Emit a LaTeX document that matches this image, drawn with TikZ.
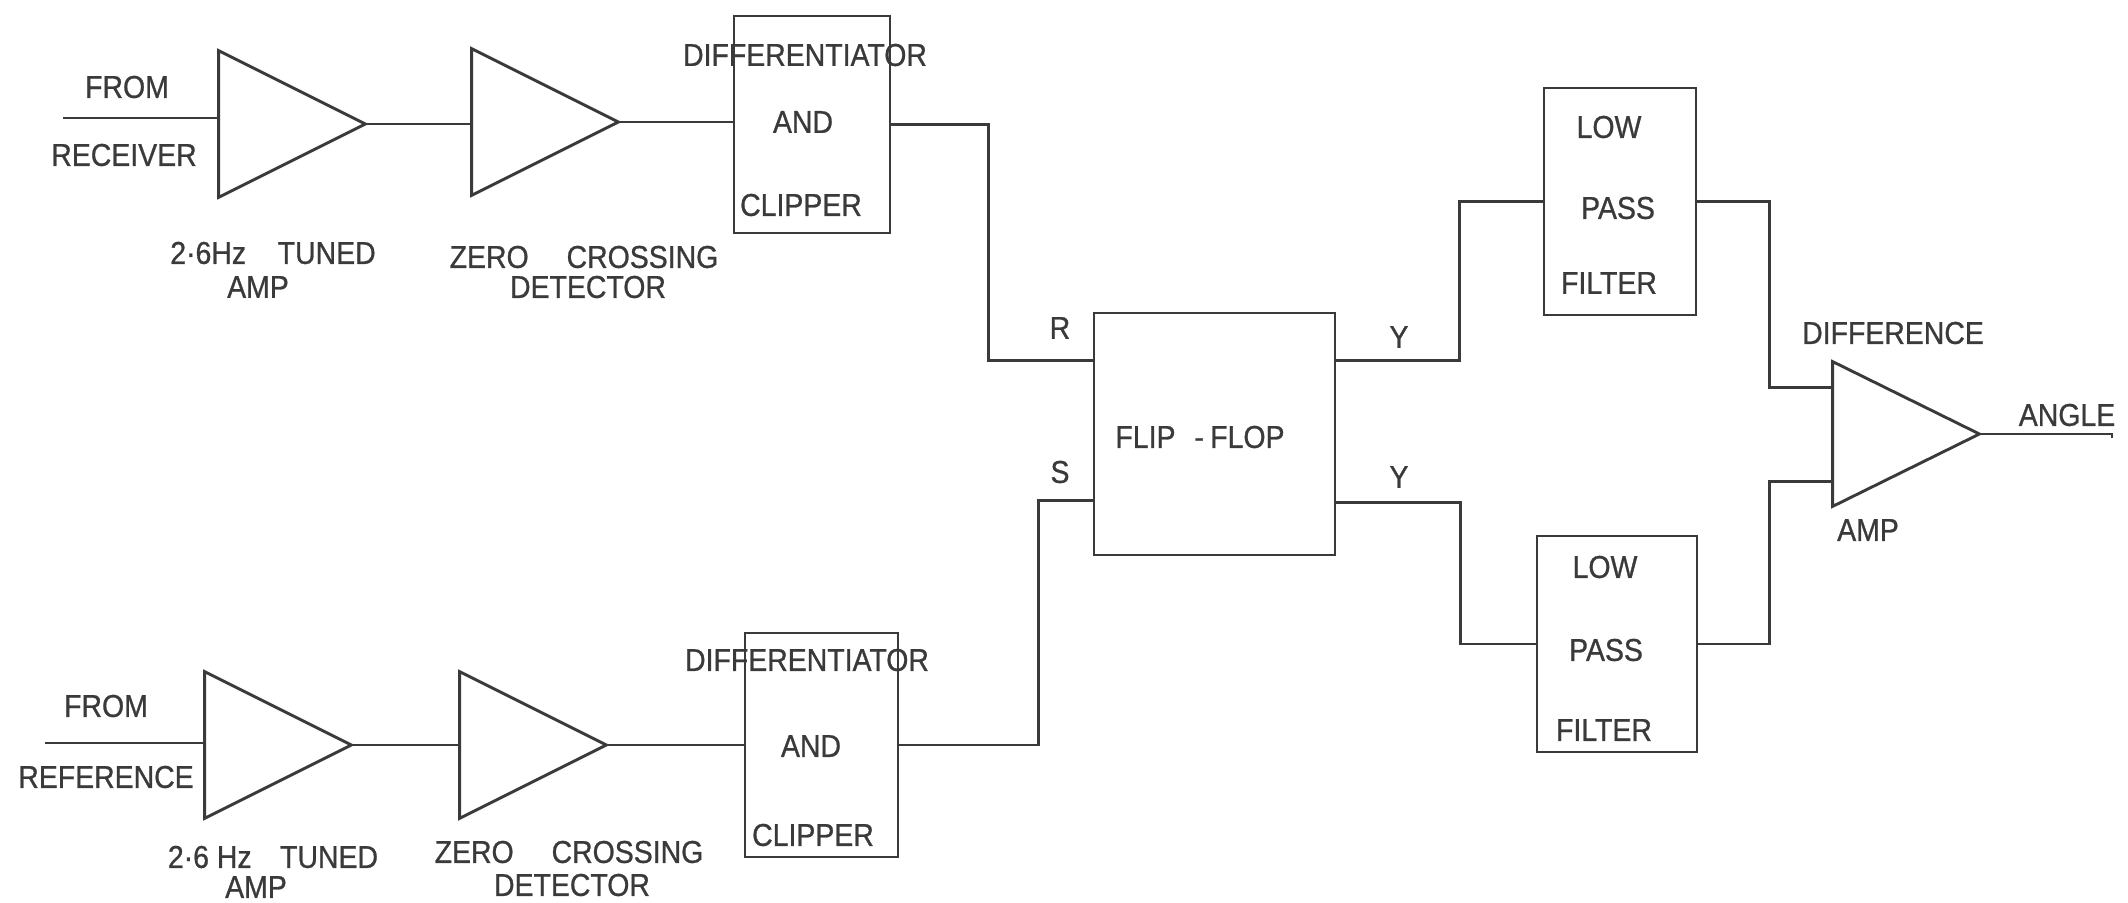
\documentclass[tikz,border=0pt]{standalone}
\usepackage{fontspec}
\setmainfont{Liberation Sans}[FakeStretch=0.9,FakeBold=0.8]
\usetikzlibrary{calc}
\definecolor{ink}{HTML}{3A3A3A}
\tikzset{
  wire/.style={draw=ink, line width=1.45pt, line join=miter},
  blk/.style={draw=ink, line width=1.45pt, rectangle, inner sep=0pt},
  ampbox/.style={rectangle, inner sep=0pt, minimum width=73pt, minimum height=73pt},
  lbl/.style={text=ink, inner sep=0pt, font=\fontsize{15.8pt}{18pt}\selectfont, anchor=center}
}
\begin{document}
\begin{tikzpicture}[x=0.5pt,y=-0.5pt]
\useasboundingbox (0,0) rectangle (2128,903);
% amplifiers (triangle outlines drawn from their nodes)
\node[ampbox] (T1) at (292,124) {};
\node[ampbox] (T2) at (545,122) {};
\node[ampbox] (T3) at (278,745) {};
\node[ampbox] (T4) at (533,745) {};
\node[ampbox, minimum height=72pt] (DA) at (1906,434) {};
\foreach \t in {T1,T2,T3,T4,DA}
  \draw[wire] (\t.north west) -- (\t.east) -- (\t.south west) -- cycle;
% boxes
\node[blk, minimum width=78pt, minimum height=108.5pt] (D1) at (812,124.5) {};
\node[blk, minimum width=76.5pt, minimum height=112pt] (D2) at (821.5,745) {};
\node[blk, minimum width=120.5pt, minimum height=121pt] (FF) at (1214.5,434) {};
\node[blk, minimum width=76pt, minimum height=113.5pt] (L1) at (1620,201.5) {};
\node[blk, minimum width=80pt, minimum height=108pt] (L2) at (1617,644) {};
% free ends
\coordinate (in1) at (63,118);
\coordinate (in2) at (45,743);
\coordinate (out) at (2112,438);
% connectors
\draw[wire] (in1) -- (in1 -| T1.west);
\draw[wire] (T1.east) -- (T1.east -| T2.west);
\draw[wire] (T2.east) -- (T2.east -| D1.west);
\draw[wire] (in2) -- (in2 -| T3.west);
\draw[wire] (T3.east) -- (T3.east -| T4.west);
\draw[wire] (T4.east) -- (T4.east -| D2.west);
\draw[wire] (D1.east) -- ++(97,0) |- ($(FF.north west)!0.2!(FF.south west)$);
\draw[wire] (D2.east) -- ++(139,0) |- ($(FF.north west)!0.77!(FF.south west)$);
\draw[wire] ($(FF.north east)!0.2!(FF.south east)$) -- ++(123,0) |- (L1.west);
\draw[wire] ($(FF.north east)!0.78!(FF.south east)$) -- ++(124,0) |- (L2.west);
\draw[wire] (L1.east) -- ++(72,0) |- ($(DA.north west)!0.18!(DA.south west)$);
\draw[wire] (L2.east) -- ++(71,0) |- ($(DA.north west)!0.826!(DA.south west)$);
\draw[wire] (DA.east) -- (DA.east -| out) -- (out);
% labels
\node[lbl] (l1) at (127,87) {FROM};
\node[lbl] (l2) at (124,155) {RECEIVER};
\node[lbl] (l3) at (106,706) {FROM};
\node[lbl] (l4) at (106,777) {REFERENCE};
\node[lbl] (l5) at (273,253) {2·6Hz\hspace{1em}TUNED};
\node[lbl] (l6) at (258,287) {AMP};
\node[lbl] (l7) at (584,257) {ZERO\hspace{1.2em}CROSSING};
\node[lbl] (l8) at (588,287) {DETECTOR};
\node[lbl] (l9) at (273,857) {2·6 Hz\hspace{0.9em}TUNED};
\node[lbl] (l10) at (256,887) {AMP};
\node[lbl] (l11) at (569,852) {ZERO\hspace{1.2em}CROSSING};
\node[lbl] (l12) at (572,885) {DETECTOR};
\node[lbl] (l13) at (805,55) {DIFFERENTIATOR};
\node[lbl] (l14) at (803,122) {AND};
\node[lbl] (l15) at (801,205) {CLIPPER};
\node[lbl] (l16) at (807,660) {DIFFERENTIATOR};
\node[lbl] (l17) at (811,746) {AND};
\node[lbl] (l18) at (813,835) {CLIPPER};
\node[lbl] (l19) at (1200,437) {FLIP\hspace{0.6em}-\hspace{0.2em}FLOP};
\node[lbl] (l20) at (1060,328) {R};
\node[lbl] (l21) at (1060,472) {S};
\node[lbl] (l22) at (1399,337) {Y};
\node[lbl] (l23) at (1399,477) {Y};
\node[lbl] (l24) at (1609,127) {LOW};
\node[lbl] (l25) at (1618,208) {PASS};
\node[lbl] (l26) at (1609,283) {FILTER};
\node[lbl] (l27) at (1605,567) {LOW};
\node[lbl] (l28) at (1606,650) {PASS};
\node[lbl] (l29) at (1604,730) {FILTER};
\node[lbl] (l30) at (1893,333) {DIFFERENCE};
\node[lbl] (l31) at (1868,530) {AMP};
\node[lbl] (l32) at (2067,415) {ANGLE};
\end{tikzpicture}
\end{document}
